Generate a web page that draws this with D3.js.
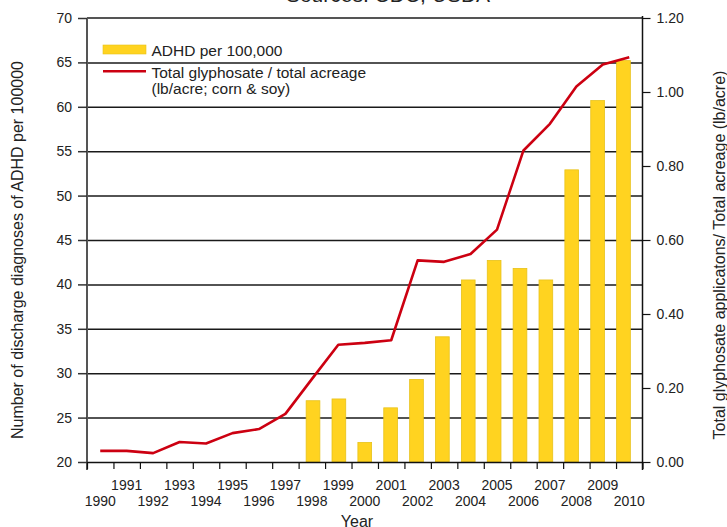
<!DOCTYPE html>
<html><head><meta charset="utf-8">
<script src="https://cdn.jsdelivr.net/npm/d3@7"></script>
<style>
html,body{margin:0;padding:0;background:#fff;}
svg{display:block;font-family:"Liberation Sans",Arial,sans-serif;}
</style></head>
<body>
<svg id="chart" width="727" height="527"></svg>
<script>
const years = [1990,1991,1992,1993,1994,1995,1996,1997,1998,1999,2000,2001,2002,2003,2004,2005,2006,2007,2008,2009,2010];
const adhdPer100k = [null,null,null,null,null,null,null,null,26.9,27.1,22.2,26.1,29.3,34.1,40.5,42.7,41.8,40.5,52.9,60.7,65.2];
const glyphosatePerAcre = [0.030,0.030,0.024,0.054,0.050,0.078,0.089,0.130,0.224,0.317,0.322,0.329,0.545,0.541,0.562,0.628,0.842,0.914,1.015,1.074,1.094];
const leftTicks = [20,25,30,35,40,45,50,55,60,65,70];
const rightTicks = [0,0.2,0.4,0.6,0.8,1.0,1.2];
const titleText = "Sources: CDC, USDA";
const leftTitle = "Number of discharge diagnoses of ADHD per 100000";
const rightTitle = "Total glyphosate applicatons/ Total acreage (lb/acre)";
const xTitle = "Year";
const legendLabels = ["ADHD per 100,000", "Total glyphosate / total acreage", "(lb/acre; corn & soy)"];

const svg = d3.select("#chart");
const L = 87, R = 642.5, T = 18, B = 462;
const x = d3.scaleBand().domain(years).range([L, R]).paddingInner(0).paddingOuter(0);
const xb = d3.scaleBand().domain(years).range([L, R]).padding(0.47);
const yL = d3.scaleLinear().domain([20,70]).range([B, T]);
const yR = d3.scaleLinear().domain([0,1.2]).range([B, T]);
const edges = d3.scaleLinear().domain([years[0]-0.5, years[years.length-1]+0.5]).range([L, R]);

// gridlines
const grid = svg.append("g").attr("transform",`translate(${L},0)`)
  .call(d3.axisLeft(yL).tickValues(leftTicks.slice(1,-1)).tickSize(-(R-L)).tickFormat(""));
grid.select(".domain").remove();
grid.selectAll("line").attr("stroke","#1a1a1a").attr("stroke-width",1.5);
// top line
svg.append("line").attr("x1",L).attr("x2",R).attr("y1",yL(70)).attr("y2",yL(70))
  .attr("stroke","#555").attr("stroke-width",2);

// bars
svg.append("g").selectAll("rect").data(years.map((yr,i)=>({yr, v:adhdPer100k[i]})).filter(d=>d.v!=null))
  .join("rect")
  .attr("x", d=>xb(d.yr)).attr("width", xb.bandwidth())
  .attr("y", d=>yL(d.v)).attr("height", d=>B-yL(d.v))
  .attr("fill","#ffd320").attr("stroke","#e8c21a").attr("stroke-width",0.8);

// left axis
const la = svg.append("g").attr("transform",`translate(${L},0)`)
  .call(d3.axisLeft(yL).tickValues(leftTicks).tickSize(9).tickSizeOuter(0).tickPadding(6));
la.select(".domain").attr("stroke","#555").attr("stroke-width",2).attr("d",`M0,${T}V${B+8}`);
la.selectAll("line").attr("stroke","#333").attr("stroke-width",1.5);
la.selectAll("text").attr("font-size",14).attr("fill","#222").attr("font-family","Liberation Sans, Arial");

// right axis
const ra = svg.append("g").attr("transform",`translate(${R},0)`)
  .call(d3.axisRight(yR).tickValues(rightTicks).tickFormat(d3.format(".2f")).tickSize(8).tickSizeOuter(0).tickPadding(6));
ra.select(".domain").attr("stroke","#111").attr("stroke-width",1.5).attr("d",`M0,${T-2}V${B+8}`);
ra.selectAll("line").attr("stroke","#111").attr("stroke-width",1.2);
ra.selectAll("text").attr("font-size",14).attr("fill","#222").attr("font-family","Liberation Sans, Arial");

// bottom axis: boundary ticks
const ba = svg.append("g").attr("transform",`translate(0,${B})`)
  .call(d3.axisBottom(edges).tickValues(d3.range(years.length+1).map(i=>years[0]-0.5+i)).tickSize(7).tickFormat("").tickSizeOuter(0));
ba.select(".domain").attr("stroke","#111").attr("stroke-width",1.5);
ba.selectAll("line").attr("stroke","#111").attr("stroke-width",1.2);
// bottom labels
const bl = svg.append("g").attr("transform",`translate(0,${B})`)
  .call(d3.axisBottom(x).tickSize(0).tickPadding(0));
bl.select(".domain").remove();
bl.selectAll("text").attr("font-size",14).attr("fill","#222").attr("font-family","Liberation Sans, Arial")
  .attr("dy",null)
  .attr("y", (d,i)=> i%2===0 ? 44 : 27.5);

// line
svg.append("path").datum(years.map((yr,i)=>[x(yr)+x.bandwidth()/2, yR(glyphosatePerAcre[i])]))
  .attr("d", d3.line()).attr("fill","none").attr("stroke","#cc0011").attr("stroke-width",2.6)
  .attr("stroke-linejoin","round");

// legend
svg.append("rect").attr("x",103).attr("y",45).attr("width",43).attr("height",9).attr("fill","#ffd320").attr("stroke","#e8c21a").attr("stroke-width",0.6);
svg.append("line").attr("x1",103).attr("x2",146).attr("y1",71.3).attr("y2",71.3).attr("stroke","#cc0011").attr("stroke-width",2.4);
const lg = svg.append("g").attr("font-size",15.5).attr("fill","#222");
lg.append("text").attr("x",151.5).attr("y",55.5).text(legendLabels[0]);
lg.append("text").attr("x",151.5).attr("y",78).text(legendLabels[1]);
lg.append("text").attr("x",151.5).attr("y",94).text(legendLabels[2]);

// titles
svg.append("text").attr("x",388).attr("y",2).attr("text-anchor","middle").attr("font-size",21).attr("fill","#222").text(titleText);
svg.append("text").attr("x",357).attr("y",526.5).attr("text-anchor","middle").attr("font-size",16).attr("fill","#222").text(xTitle);
svg.append("text").attr("transform","translate(23,250) rotate(-90)").attr("text-anchor","middle").attr("font-size",16).attr("fill","#222").text(leftTitle);
svg.append("text").attr("transform","translate(725,255) rotate(-90)").attr("text-anchor","middle").attr("font-size",16).attr("fill","#222").text(rightTitle);
</script>
</body></html>
